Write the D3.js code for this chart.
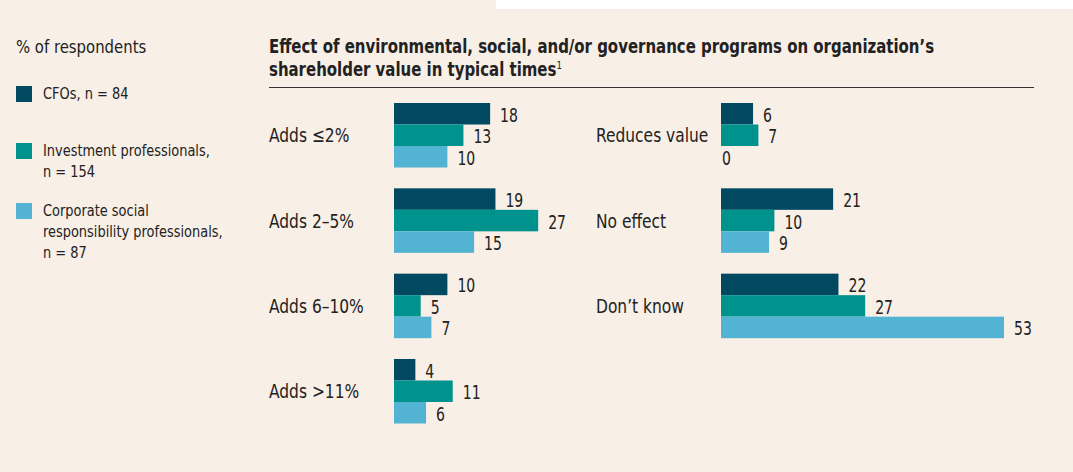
<!DOCTYPE html>
<html>
<head>
<meta charset="utf-8">
<script src="https://cdn.jsdelivr.net/npm/d3@7"></script>
<style>
  body { margin: 0; background: #f8efe6; }
  svg { display: block; }
  text { font-family: "DejaVu Sans Condensed", "DejaVu Sans", sans-serif; fill: #222; }
</style>
</head>
<body>
<div id="chart"></div>
<script>
var w = 1073;
var h = 472;

// Data
var series = ["CFOs, n = 84", "Investment professionals, n = 154", "Corporate social responsibility professionals, n = 87"];
var colors = ["#014960", "#00928d", "#52b3d3"];

var leftCategories = ["Adds ≤2%", "Adds 2–5%", "Adds 6–10%", "Adds >11%"];
var leftCfo = [18, 19, 10, 4];
var leftInvest = [13, 27, 5, 11];
var leftCsr = [10, 15, 7, 6];

var rightCategories = ["Reduces value", "No effect", "Don’t know"];
var rightCfo = [6, 21, 22];
var rightInvest = [7, 10, 27];
var rightCsr = [0, 9, 53];

var svg = d3
  .select("#chart")
  .append("svg")
  .attr("width", w)
  .attr("height", h);

// narrow the text horizontally around its x anchor (the original uses a condensed face)
function squeeze(sel, k) {
  sel.attr("transform", function () {
    var x = +d3.select(this).attr("x") || 0;
    return "translate(" + x + ",0) scale(" + k + ",1) translate(" + (-x) + ",0)";
  });
}

svg.append("rect")
  .attr("width", w).attr("height", h)
  .attr("fill", "#f8efe6");

// white strip at the very top
svg.append("rect")
  .attr("x", 496).attr("y", 0)
  .attr("width", w - 496).attr("height", 9)
  .attr("fill", "#ffffff");

// Legend
svg.append("text")
  .attr("x", 16).attr("y", 53)
  .style("font-size", "18px")
  .text("% of respondents")
  .call(squeeze, 0.92);

var legendRows = [
  { lines: ["CFOs, n = 84"], y: 86 },
  { lines: ["Investment professionals,", "n = 154"], y: 143 },
  { lines: ["Corporate social", "responsibility professionals,", "n = 87"], y: 203 }
];

legendRows.forEach(function (row, i) {
  svg.append("rect")
    .attr("x", 16).attr("y", row.y)
    .attr("width", 16).attr("height", 16)
    .attr("fill", colors[i]);
  var t = svg.append("text")
    .attr("x", 43).attr("y", row.y + 13)
    .style("font-size", "16px");
  row.lines.forEach(function (line, j) {
    t.append("tspan")
      .attr("x", 43)
      .attr("dy", j === 0 ? 0 : 21)
      .text(line);
  });
  t.call(squeeze, 0.9);
});

// Title
var title = svg.append("text")
  .attr("x", 269).attr("y", 53)
  .style("font-size", "19px")
  .style("font-weight", "bold");
title.append("tspan").attr("x", 269).text("Effect of environmental, social, and/or governance programs on organization’s");
title.append("tspan").attr("x", 269).attr("dy", 23).text("shareholder value in typical times");
title.append("tspan").attr("dy", -7).style("font-size", "11px").style("font-weight", "normal").text("1");
title.call(squeeze, 0.875);

svg.append("line")
  .attr("x1", 269).attr("x2", 1034)
  .attr("y1", 87.5).attr("y2", 87.5)
  .attr("stroke", "#333")
  .attr("stroke-width", 1);

// Scales
const xScale = d3.scaleLinear().domain([0, 53]).range([0, 283]);

const yScale = d3
  .scaleBand()
  .domain(d3.range(4))
  .range([103, 423.5])
  .paddingInner(0.244)
  .paddingOuter(0);

const inner = d3
  .scaleBand()
  .domain(d3.range(3))
  .range([0, yScale.bandwidth()]);

function drawPanel(categories, values, labelX, barX) {
  var rows = categories.map(function (c, i) {
    return { cat: c, i: i, vals: values.map(function (v) { return v[i]; }) };
  });

  var g = svg.append("g");

  var groups = g.selectAll("g.row")
    .data(rows)
    .enter()
    .append("g")
    .attr("class", "row")
    .attr("transform", function (d) { return "translate(0," + yScale(d.i) + ")"; });

  groups.append("text")
    .attr("x", labelX)
    .attr("y", yScale.bandwidth() / 2)
    .attr("dy", "0.35em")
    .style("font-size", "20px")
    .text(function (d) { return d.cat; })
    .call(squeeze, 0.86);

  groups.selectAll("rect")
    .data(function (d) { return d.vals; })
    .enter()
    .append("rect")
    .attr("x", barX)
    .attr("y", function (d, j) { return inner(j); })
    .attr("width", function (d) { return xScale(d); })
    .attr("height", inner.bandwidth())
    .attr("fill", function (d, j) { return colors[j]; });

  groups.selectAll("text.val")
    .data(function (d) { return d.vals; })
    .enter()
    .append("text")
    .attr("class", "val")
    .attr("x", function (d) { return barX + xScale(d) + (d > 0 ? 10 : 1); })
    .attr("y", function (d, j) { return inner(j) + inner.bandwidth() / 2 + 1; })
    .attr("dy", "0.35em")
    .style("font-size", "20px")
    .text(function (d) { return d; })
    .call(squeeze, 0.78);
}

drawPanel(leftCategories, [leftCfo, leftInvest, leftCsr], 269, 394);
drawPanel(rightCategories, [rightCfo, rightInvest, rightCsr], 596, 721);
</script>
</body>
</html>
